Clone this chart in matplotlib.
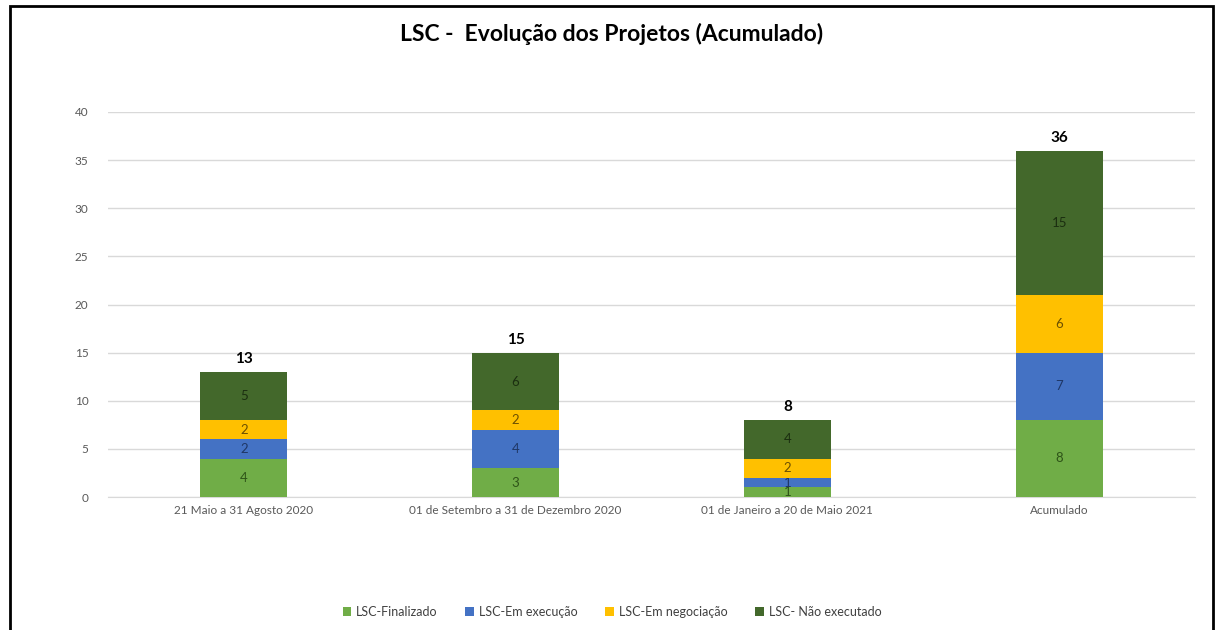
import matplotlib
matplotlib.use("Agg")
import matplotlib.pyplot as plt
from matplotlib.patches import Rectangle
import numpy as np

plt.rcParams['font.family'] = ['Lato', 'DejaVu Sans']

# data
categories = ["21 Maio a 31 Agosto 2020", "01 de Setembro a 31 de Dezembro 2020",
              "01 de Janeiro a 20 de Maio 2021", "Acumulado"]
finalizado = [4, 3, 1, 8]
em_execucao = [2, 4, 1, 7]
em_negociacao = [2, 2, 2, 6]
nao_executado = [5, 6, 4, 15]

series_names = ["LSC-Finalizado", "LSC-Em execução", "LSC-Em negociação", "LSC- Não executado"]
series_values = [finalizado, em_execucao, em_negociacao, nao_executado]
colors = ["#70AD47", "#4472C4", "#FFC000", "#43682B"]
label_colors = ["#2E5418", "#1F3766", "#6B4F00", "#1B2E10"]

fig = plt.figure(figsize=(12.16, 6.3), dpi=100)
ax = fig.add_axes([108 / 1216, 1 - 497 / 630, (1195 - 108) / 1216, (497 - 112) / 630])

# frame round the chart like the screenshot
fig.patches.append(Rectangle((10 / 1216, -0.05), (1213 - 10) / 1216, 1 - 6 / 630 + 0.05,
                             transform=fig.transFigure, fill=False,
                             edgecolor="black", linewidth=2))

x = np.arange(len(categories))
bottom = np.zeros(len(categories))
for name, vals, c, lc in zip(series_names, series_values, colors, label_colors):
    bars = ax.bar(x, vals, width=0.32, bottom=bottom, color=c, label=name, zorder=3)
    ax.bar_label(bars, labels=[str(v) for v in vals], label_type="center",
                 color=lc, fontsize=9.5)
    bottom += np.array(vals)

for xi, tot in zip(x, bottom):
    ax.text(xi, tot + 0.6, str(int(tot)), ha="center", va="bottom",
            fontsize=11, fontweight="bold", color="black")

ax.set_xlim(-0.5, len(categories) - 0.5)
ax.set_ylim(0, 40)
ax.set_yticks(range(0, 41, 5))
ax.set_xticks(x)
ax.set_xticklabels(categories)
ax.tick_params(axis="both", length=0, labelsize=8.5, colors="#595959")
ax.tick_params(axis="y", pad=14)
ax.tick_params(axis="x", pad=6)
ax.grid(axis="y", color="#D9D9D9", linewidth=1, zorder=0)
for s in ["top", "right", "left"]:
    ax.spines[s].set_visible(False)
ax.spines["bottom"].set_color("#D9D9D9")

fig.text(612 / 1216, 1 - 34 / 630, "LSC -  Evolução dos Projetos (Acumulado)",
         ha="center", va="center", fontsize=16.5, fontweight="bold", color="black")

fig.legend(loc="center", bbox_to_anchor=(612 / 1216, 1 - 612 / 630), ncol=4,
           frameon=False, fontsize=9, handlelength=0.7, handleheight=0.7,
           columnspacing=2.2, handletextpad=0.4, labelcolor="#404040")

fig.savefig("out.png", dpi=100)
